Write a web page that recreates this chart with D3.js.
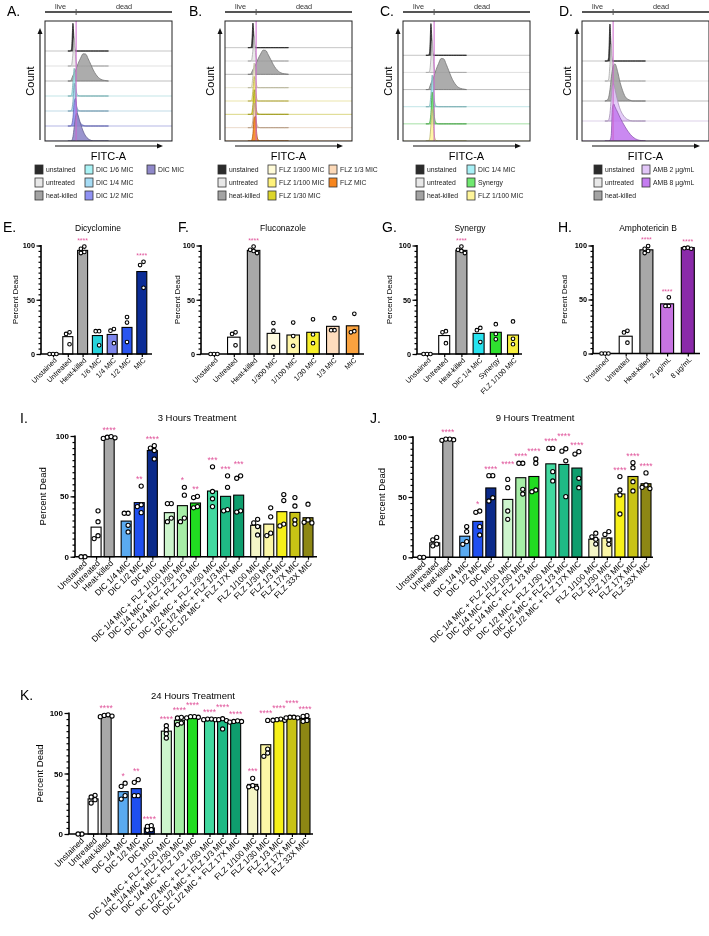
<!DOCTYPE html>
<html>
<head>
<meta charset="utf-8">
<script src="https://cdn.jsdelivr.net/npm/d3@7"></script>
<style>
  body { margin: 0; background: #fff; }
  svg { font-family: "Liberation Sans", Arial, sans-serif; will-change: transform; }
</style>
</head>
<body>
<div id="chart"></div>
<script>
// ---------------- data: flow histograms (A-D) ----------------
const fitcBins = [18, 20, 21, 22, 23, 24, 25, 26, 28, 30, 32, 34, 36, 38, 40, 42, 44, 47, 50]
const gateFitc = 24.5

const legendA = ['unstained', 'untreated', 'heat-killed', 'DIC 1/6 MIC', 'DIC 1/4 MIC', 'DIC 1/2 MIC', 'DIC MIC']
const histA = [
  [0, 0, 0.1, 1, 0.25, 0, 0, 0, 0, 0, 0, 0, 0, 0, 0, 0, 0, 0, 0],
  [0, 0, 0.05, 0.45, 1, 0.35, 0.05, 0, 0, 0, 0, 0, 0, 0, 0, 0, 0, 0, 0],
  [0, 0, 0.08, 0.2, 0.28, 0.38, 0.5, 0.62, 0.82, 0.98, 0.97, 0.8, 0.6, 0.4, 0.24, 0.13, 0.06, 0.02, 0],
  [0, 0, 0.05, 0.5, 1, 0.4, 0.1, 0.02, 0, 0, 0, 0, 0, 0, 0, 0, 0, 0, 0],
  [0, 0, 0.05, 0.35, 1, 0.55, 0.15, 0.04, 0, 0, 0, 0, 0, 0, 0, 0, 0, 0, 0],
  [0, 0, 0.05, 0.3, 0.85, 1, 0.65, 0.35, 0.1, 0.03, 0, 0, 0, 0, 0, 0, 0, 0, 0],
  [0, 0, 0.02, 0.15, 0.5, 0.85, 1, 0.92, 0.62, 0.36, 0.18, 0.08, 0.03, 0, 0, 0, 0, 0, 0]
]
const legendB = ['unstained', 'untreated', 'heat-killed', 'FLZ 1/300 MIC', 'FLZ 1/100 MIC', 'FLZ 1/30 MIC', 'FLZ 1/3 MIC', 'FLZ MIC']
const histB = [
  [0, 0, 0.1, 1, 0.25, 0, 0, 0, 0, 0, 0, 0, 0, 0, 0, 0, 0, 0, 0],
  [0, 0, 0.05, 0.45, 1, 0.35, 0.05, 0, 0, 0, 0, 0, 0, 0, 0, 0, 0, 0, 0],
  [0, 0, 0.08, 0.2, 0.28, 0.38, 0.5, 0.62, 0.82, 0.98, 0.97, 0.8, 0.6, 0.4, 0.24, 0.13, 0.06, 0.02, 0],
  [0, 0, 0.05, 0.5, 1, 0.4, 0.08, 0, 0, 0, 0, 0, 0, 0, 0, 0, 0, 0, 0],
  [0, 0, 0.04, 0.45, 1, 0.45, 0.1, 0, 0, 0, 0, 0, 0, 0, 0, 0, 0, 0, 0],
  [0, 0, 0.04, 0.4, 1, 0.5, 0.12, 0.02, 0, 0, 0, 0, 0, 0, 0, 0, 0, 0, 0],
  [0, 0, 0.03, 0.35, 1, 0.55, 0.15, 0.03, 0, 0, 0, 0, 0, 0, 0, 0, 0, 0, 0],
  [0, 0, 0.03, 0.3, 0.95, 1, 0.3, 0.05, 0, 0, 0, 0, 0, 0, 0, 0, 0, 0, 0]
]
const legendC = ['unstained', 'untreated', 'heat-killed', 'DIC 1/4 MIC', 'Synergy', 'FLZ 1/100 MIC']
const histC = [
  [0, 0, 0.1, 1, 0.25, 0, 0, 0, 0, 0, 0, 0, 0, 0, 0, 0, 0, 0, 0],
  [0, 0, 0.05, 0.45, 1, 0.35, 0.05, 0, 0, 0, 0, 0, 0, 0, 0, 0, 0, 0, 0],
  [0, 0, 0.08, 0.2, 0.28, 0.38, 0.5, 0.62, 0.82, 0.98, 0.97, 0.8, 0.6, 0.4, 0.24, 0.13, 0.06, 0.02, 0],
  [0, 0, 0.05, 0.4, 1, 0.5, 0.12, 0.02, 0, 0, 0, 0, 0, 0, 0, 0, 0, 0, 0],
  [0, 0, 0.05, 0.35, 1, 0.6, 0.15, 0.03, 0, 0, 0, 0, 0, 0, 0, 0, 0, 0, 0],
  [0, 0, 0.08, 0.5, 1, 0.45, 0.1, 0.02, 0, 0, 0, 0, 0, 0, 0, 0, 0, 0, 0]
]
const legendD = ['unstained', 'untreated', 'heat-killed', 'AMB 2 µg/mL', 'AMB 8 µg/mL']
const histD = [
  [0, 0, 0.1, 1, 0.25, 0, 0, 0, 0, 0, 0, 0, 0, 0, 0, 0, 0, 0, 0],
  [0, 0, 0.05, 0.45, 1, 0.35, 0.05, 0, 0, 0, 0, 0, 0, 0, 0, 0, 0, 0, 0],
  [0, 0.03, 0.1, 0.3, 0.6, 0.85, 0.98, 1, 0.8, 0.5, 0.28, 0.12, 0.05, 0.02, 0, 0, 0, 0, 0],
  [0, 0, 0.03, 0.2, 0.6, 0.95, 1, 0.85, 0.55, 0.32, 0.18, 0.09, 0.04, 0.01, 0, 0, 0, 0, 0],
  [0, 0, 0, 0.02, 0.15, 0.9, 1, 0.92, 0.78, 0.63, 0.5, 0.38, 0.27, 0.18, 0.11, 0.06, 0.03, 0.01, 0]
]

// ---------------- data: percent dead (E-H) ----------------
const catsE = ['Unstained', 'Untreated', 'Heat-killed', '1/6 MIC', '1/4 MIC', '1/2 MIC', 'MIC']
const meanE = [0, 16, 95.5, 17, 18, 24.5, 76]
const ptsE = [[0, 0, 0], [20, 18.5, 9], [93, 94, 97, 99], [21, 21, 8], [23, 21.5, 10], [34, 29, 11], [85, 82, 61]]
const starsE = ['', '', '****', '', '', '', '****']

const catsF = ['Unstained', 'Untreated', 'Heat-killed', '1/300 MIC', '1/100 MIC', '1/30 MIC', '1/3 MIC', 'MIC']
const meanF = [0, 15.5, 95.5, 19, 17.5, 20, 25.5, 26]
const ptsF = [[0, 0, 0], [20, 18.5, 8], [93, 95, 96, 99], [28.5, 21.5, 6.5], [29, 16.5, 7.5], [32, 18, 10], [33, 22, 22], [37, 21, 20]]
const starsF = ['', '', '****', '', '', '', '', '']

const catsG = ['Unstained', 'Untreated', 'Heat-killed', 'DIC 1/4 MIC', 'Synergy', 'FLZ 1/100 MIC']
const meanG = [0, 17, 95.5, 19, 20, 17.5]
const ptsG = [[0, 0, 0], [21, 20, 10], [93, 95, 96, 99], [24, 22, 11], [27.5, 18.5, 13.5], [30, 14, 9]]
const starsG = ['', '', '****', '', '', '']

const catsH = ['Unstained', 'Untreated', 'Heat-killed', '2 µg/mL', '8 µg/mL']
const meanH = [0, 16, 96, 46, 98]
const ptsH = [[0, 0, 0], [21, 19.5, 10], [93, 95, 97, 99.5], [52, 44, 44], [97, 97.5, 98]]
const starsH = ['', '', '****', '****', '****']

// ---------------- data: time course (I-K) ----------------
const catsT = ['Unstained', 'Untreated', 'Heat-killed', 'DIC 1/4 MIC', 'DIC 1/2 MIC', 'DIC MIC',
  'DIC 1/4 MIC + FLZ 1/100 MIC', 'DIC 1/4 MIC + FLZ 1/30 MIC', 'DIC 1/4 MIC + FLZ 1/3 MIC',
  'DIC 1/2 MIC + FLZ 1/30 MIC', 'DIC 1/2 MIC + FLZ 1/3 MIC', 'DIC 1/2 MIC + FLZ 17X MIC',
  'FLZ 1/100 MIC', 'FLZ 1/30 MIC', 'FLZ 1/3 MIC', 'FLZ 17X MIC', 'FLZ 33X MIC']
const groupT = [0, 0, 0, 1, 1, 1, 2, 2, 2, 3, 3, 3, 4, 4, 4, 4, 4]

const meanI = [0, 24.5, 99, 29.5, 44.8, 88, 36.5, 42.3, 44.5, 54.4, 50, 51, 26, 27, 37.3, 36.7, 32.3]
const ptsI = [
  [0, 0], [38, 29, 17.4, 15], [99, 98, 99.5, 98.5], [36, 36, 26, 20.5], [58.5, 43, 41.5, 36.5],
  [92, 90, 88, 81], [44, 44, 32, 29], [57.5, 51, 32, 29], [50, 49, 41.5, 40.5], [74.5, 54, 48, 41.5],
  [67, 57.5, 39, 38], [67, 65, 38, 37], [31, 28, 25, 18], [40.5, 33, 19.5, 17.5], [51.5, 46.5, 27, 25.5],
  [49, 42, 30.5, 27], [43.5, 30.5, 28.5, 28]
]
const starsI = ['', '', '****', '', '**', '****', '', '*', '**', '***', '***', '***', '', '', '', '', '']

const meanJ = [0, 12, 97.5, 17.5, 29.8, 57.5, 48, 66, 67, 77.5, 77, 74, 15, 16, 52.5, 67, 61]
const ptsJ = [
  [0, 0], [16.5, 14.5, 11, 9.5], [97, 97.5, 98, 98], [25.5, 21.3, 13, 10.8], [38.4, 37.3, 25.4, 18.5],
  [67.7, 67.7, 49.4, 46.7], [64.6, 57.7, 38.4, 31.5], [78, 78, 56.4, 52.5], [81.5, 78, 55.8, 54.4],
  [90.3, 90.3, 71, 63.3], [90, 88, 80, 50.3], [87.6, 85.6, 65.5, 57.7], [20, 17, 15, 11],
  [21.3, 19, 14.4, 10.8], [66.9, 55.8, 51.7, 35.9], [78.5, 74.3, 62.7, 55], [70, 60, 58, 57]
]
const starsJ = ['', '', '****', '', '*', '****', '****', '****', '****', '****', '****', '****', '', '', '****', '****', '****']

const meanK = [0, 29, 97.8, 35, 37.5, 5, 85, 94, 96.7, 95, 94.5, 93, 41, 73.8, 94.5, 96.5, 95.5]
const ptsK = [
  [0, 0], [32, 30.6, 28.4, 25.6], [97, 98, 98.5, 97.5], [42, 39.4, 31.7, 28.9], [44.9, 42.7, 31.7, 31.7],
  [6.9, 6.3, 3.6, 3], [89.5, 86.2, 82.9, 79.3], [96.4, 95.9, 91.7, 90.4], [96, 96.5, 97, 97],
  [95, 95, 94.5, 94.5], [95.3, 94.5, 93.7, 86.8], [93, 93, 92.5, 93.5], [46, 40, 39, 38],
  [93.9, 70.2, 66.9, 64.2], [95, 94.5, 94, 94], [96.5, 96.5, 96, 96], [97.8, 97.2, 93.9, 93.1]
]
const starsK = ['', '', '****', '*', '**', '****', '****', '****', '****', '****', '****', '****', '***', '****', '****', '****', '****']

// ---------------- colours ----------------
const colorsA = ['#2b2b2b', '#e8e8e8', '#a3a3a3', '#aaf3f6', '#a6dcf5', '#8f91f3', '#8f88c9']
const colorsB = ['#2b2b2b', '#e8e8e8', '#a3a3a3', '#fffbd8', '#fff27a', '#dcd52a', '#fcd9b8', '#f7861f']
const colorsC = ['#2b2b2b', '#e8e8e8', '#a3a3a3', '#a8f0f6', '#6fe86f', '#fff59a']
const colorsD = ['#2b2b2b', '#e8e8e8', '#a3a3a3', '#e2c6f8', '#c47cf0']
const barColE = ['#ffffff', '#ffffff', '#a8a8a8', '#27d3dc', '#7d86ec', '#2a55f0', '#0b2c96']
const barColF = ['#ffffff', '#ffffff', '#a8a8a8', '#fffbe0', '#fff6a8', '#f7ef2a', '#fddcbd', '#f9a23f']
const barColG = ['#ffffff', '#ffffff', '#a8a8a8', '#27e3ef', '#2fe02f', '#f7ef3e']
const barColH = ['#ffffff', '#ffffff', '#a8a8a8', '#c774e2', '#8a2aa9']
const barColT = ['#ffffff', '#ffffff', '#a8a8a8', '#5aaaf0', '#1f4ff0', '#0b2a8a', '#cdf5cd', '#a6eea6', '#21dc21',
  '#42d9a0', '#1fba85', '#0f9e6e', '#f4f5c6', '#fbf6a6', '#f6f019', '#c8c315', '#8d8714']
const starColor = '#e0559b'

// ---------------- svg ----------------
const svg = d3.select('#chart').append('svg').attr('width', 709).attr('height', 936)

function arrowHead(g, x, y, dir) {
  // small filled triangle pointing up ('u') or right ('r')
  const p = dir === 'u'
    ? `M${x},${y} L${x - 2.5},${y + 6} L${x + 2.5},${y + 6} Z`
    : `M${x},${y} L${x - 6},${y - 2.5} L${x - 6},${y + 2.5} Z`
  g.append('path').attr('d', p).attr('fill', '#111')
}

function flowPanel(p) {
  const g = svg.append('g')
  const top = 21, bottom = 141, boxW = 127
  const x = d3.scaleLinear().domain([0, 100]).range([p.x, p.x + boxW])
  const gx = x(gateFitc)
  const n = p.hist.length
  const sp = (bottom - top) / (n + 1)

  g.append('text').attr('x', p.labelX).attr('y', 16).attr('font-size', 14).text(p.letter)

  // live | dead bar
  g.append('line').attr('x1', p.x).attr('x2', p.x + boxW).attr('y1', 12).attr('y2', 12)
    .attr('stroke', '#555').attr('stroke-width', 1.8)
  g.append('line').attr('x1', gx).attr('x2', gx).attr('y1', 9).attr('y2', 15).attr('stroke', '#555').attr('stroke-width', 1)
  g.append('text').attr('x', (p.x + gx) / 2).attr('y', 8.5).attr('font-size', 7.3).attr('fill', '#333')
    .attr('text-anchor', 'middle').text('live')
  g.append('text').attr('x', (gx + p.x + boxW) / 2).attr('y', 8.5).attr('font-size', 7.3).attr('fill', '#333')
    .attr('text-anchor', 'middle').text('dead')

  const clipId = 'clip' + p.letter[0]
  svg.append('clipPath').attr('id', clipId).append('rect')
    .attr('x', p.x).attr('y', top).attr('width', boxW).attr('height', bottom - top)
  const inner = g.append('g').attr('clip-path', `url(#${clipId})`)

  p.hist.forEach((vals, i) => {
    const base = top + 2 * sp + i * sp
    const yv = d3.scaleLinear().domain([0, 1]).range([base, base - 1.85 * sp])
    const col = p.colors[i]
    inner.append('line').attr('x1', p.x).attr('x2', p.x + boxW).attr('y1', base).attr('y2', base)
      .attr('stroke', i === 0 ? '#999' : d3.color(col).darker(0.4)).attr('stroke-opacity', 0.7).attr('stroke-width', 0.8)
    const area = d3.area()
      .x((d, j) => x(fitcBins[j]))
      .y0(base)
      .y1(d => yv(d))
      .curve(d3.curveMonotoneX)
    inner.append('path').datum(vals).attr('d', area)
      .attr('fill', col).attr('fill-opacity', 0.9)
      .attr('stroke', d3.color(col).darker(0.9)).attr('stroke-width', 0.8)
  })

  inner.append('line').attr('x1', gx).attr('x2', gx).attr('y1', top).attr('y2', bottom)
    .attr('stroke', '#cc66cc').attr('stroke-width', 1)
  g.append('rect').attr('x', p.x).attr('y', top).attr('width', boxW).attr('height', bottom - top)
    .attr('fill', 'none').attr('stroke', '#222').attr('stroke-width', 1)

  // axis arrows
  g.append('line').attr('x1', p.x - 5).attr('x2', p.x - 5).attr('y1', bottom - 1).attr('y2', 33)
    .attr('stroke', '#111').attr('stroke-width', 1.1)
  arrowHead(g, p.x - 5, 28, 'u')
  g.append('line').attr('x1', p.x + 10).attr('x2', p.x + 113).attr('y1', 146).attr('y2', 146)
    .attr('stroke', '#111').attr('stroke-width', 1.1)
  arrowHead(g, p.x + 118, 146, 'r')
  g.append('text').attr('transform', `translate(${p.x - 11},81) rotate(-90)`)
    .attr('text-anchor', 'middle').attr('font-size', 11).text('Count')
  g.append('text').attr('x', p.x + boxW / 2).attr('y', 160).attr('text-anchor', 'middle')
    .attr('font-size', 11).text('FITC-A')

  // legend
  p.names.forEach((name, i) => {
    const cx = p.x + p.legendCols[Math.floor(i / 3)]
    const cy = 165 + (i % 3) * 13
    g.append('rect').attr('x', cx).attr('y', cy).attr('width', 8).attr('height', 9)
      .attr('fill', p.colors[i]).attr('stroke', '#333').attr('stroke-width', 0.8)
    g.append('text').attr('x', cx + 11).attr('y', cy + 7).attr('font-size', 6.8).attr('fill', '#222').text(name)
  })
}

function swarm(vals, y, r) {
  const pts = vals.map(v => ({ v, py: y(v), dx: 0 }))
  const step = r * 1.5
  const placed = []
  pts.slice().sort((a, b) => a.py - b.py).forEach(p => {
    const cands = [0, -step, step, -2 * step, 2 * step, -3 * step, 3 * step]
    for (const c of cands) {
      if (placed.every(q => Math.hypot(q.dx - c, q.py - p.py) >= step - 0.01)) { p.dx = c; break }
    }
    placed.push(p)
  })
  const ext = d3.extent(pts, d => d.dx)
  const shift = (ext[0] + ext[1]) / 2
  pts.forEach(d => { d.dx -= shift })
  return pts
}

function barPanel(p) {
  const g = svg.append('g')
  const n = p.cats.length
  const slots = p.cats.map((c, i) => i + (p.groups ? p.groups[i] * 0.3 : 0))
  const x = d3.scaleLinear().domain([0, slots[n - 1]]).range([p.first, p.last])
  const y = d3.scaleLinear().domain([0, 100]).range([p.y0, p.y100])

  g.append('text').attr('x', p.lx).attr('y', p.ly).attr('font-size', 14).text(p.letter)
  g.append('text').attr('x', p.tx).attr('y', p.ty).attr('font-size', p.big ? 9.5 : 8.5)
    .attr('text-anchor', 'middle').text(p.title)
  const fs = p.big ? 9.5 : 8
  g.append('text')
    .attr('transform', `translate(${p.axisX - p.ylOff + fs * 0.35},${(p.y0 + p.y100) / 2}) rotate(-90)`)
    .attr('text-anchor', 'middle').attr('font-size', fs).attr('fill', '#000').text('Percent Dead')

  // bars
  g.selectAll('rect.bar').data(p.means).join('rect').attr('class', 'bar')
    .attr('x', (d, i) => x(slots[i]) - p.bw / 2)
    .attr('y', d => y(d))
    .attr('width', p.bw)
    .attr('height', d => y(0) - y(d))
    .attr('fill', (d, i) => p.colors[i])
    .attr('stroke', '#000').attr('stroke-width', 1.1)

  // axes
  const yMinor = d3.axisLeft(y).tickValues(d3.range(0, 101, 5)).tickSize(2.5).tickFormat('')
  const yMajor = d3.axisLeft(y).tickValues([0, 50, 100]).tickSize(4.5).tickFormat(d3.format('d'))
  g.append('g').attr('transform', `translate(${p.axisX},0)`).call(yMinor)
  const gm = g.append('g').attr('transform', `translate(${p.axisX},0)`).call(yMajor)
  gm.selectAll('text').attr('font-size', p.big ? 8 : 7.3).attr('font-weight', 'bold')
    .attr('font-family', '"Liberation Sans", Arial, sans-serif').attr('fill', '#000').attr('x', -6)
  g.selectAll('.domain').remove()
  g.selectAll('.tick line').attr('stroke', '#000').attr('stroke-width', 1.2)
  g.append('line').attr('x1', p.axisX).attr('x2', p.axisX).attr('y1', p.y0).attr('y2', p.y100 - 0.5)
    .attr('stroke', '#000').attr('stroke-width', 1.6)

  const xAxis = d3.axisBottom(x).tickValues(slots).tickSize(3).tickFormat((d, i) => p.cats[i])
  const gx = g.append('g').attr('transform', `translate(0,${p.y0})`).call(xAxis)
  gx.select('.domain').remove()
  gx.selectAll('.tick line').attr('stroke', '#000').attr('stroke-width', 1.2)
  gx.selectAll('text')
    .attr('font-size', p.big ? 8.4 : 7.2)
    .attr('font-family', '"Liberation Sans", Arial, sans-serif')
    .attr('fill', '#000')
    .attr('x', 0).attr('y', 0).attr('dy', '0.35em')
    .attr('text-anchor', 'end')
    .attr('transform', 'translate(2,5) rotate(-45)')
  g.append('line').attr('x1', p.axisX - 0.8).attr('x2', p.right).attr('y1', p.y0).attr('y2', p.y0)
    .attr('stroke', '#000').attr('stroke-width', 1.6)

  // points and significance stars
  const r = p.big ? 2.1 : 1.8
  let prevStar = null
  p.pts.forEach((vals, i) => {
    const cx = x(slots[i])
    const sw = swarm(vals, y, r + 0.5)
    g.selectAll(null).data(sw).join('circle')
      .attr('cx', d => cx + d.dx).attr('cy', d => d.py).attr('r', r)
      .attr('fill', '#fff').attr('stroke', '#000').attr('stroke-width', 1.1)
    if (p.stars[i]) {
      let sy = y(d3.max(vals)) - r - 2
      if (prevStar && prevStar.i === i - 1 && Math.abs(prevStar.sy - sy) < 5) sy = prevStar.sy - 5
      g.append('text').attr('x', cx).attr('y', sy).attr('text-anchor', 'middle')
        .attr('font-size', p.big ? 8.5 : 7).attr('fill', starColor).text(p.stars[i])
      prevStar = { i, sy }
    } else {
      prevStar = null
    }
  })
}

// ---------------- layout ----------------
flowPanel({ letter: 'A.', labelX: 7, x: 45, hist: histA, names: legendA, colors: colorsA, legendCols: [-10, 40, 102] })
flowPanel({ letter: 'B.', labelX: 189, x: 225, hist: histB, names: legendB, colors: colorsB, legendCols: [-7, 43, 104] })
flowPanel({ letter: 'C.', labelX: 380, x: 403, hist: histC, names: legendC, colors: colorsC, legendCols: [13, 64] })
flowPanel({ letter: 'D.', labelX: 559, x: 582, hist: histD, names: legendD, colors: colorsD, legendCols: [12, 60] })

barPanel({ letter: 'E.', lx: 3, ly: 232, title: 'Dicyclomine', tx: 98, ty: 231, axisX: 41, ylOff: 26,
  first: 53, last: 141.8, right: 152, y0: 354, y100: 245.5, bw: 10,
  cats: catsE, means: meanE, pts: ptsE, stars: starsE, colors: barColE })
barPanel({ letter: 'F.', lx: 178, ly: 232, title: 'Fluconazole', tx: 283, ty: 231, axisX: 201, ylOff: 24,
  first: 214, last: 352.6, right: 364, y0: 354, y100: 245.5, bw: 12.5,
  cats: catsF, means: meanF, pts: ptsF, stars: starsF, colors: barColF })
barPanel({ letter: 'G.', lx: 382, ly: 232, title: 'Synergy', tx: 470, ty: 231, axisX: 417, ylOff: 28,
  first: 427, last: 513, right: 522, y0: 354, y100: 245.5, bw: 11,
  cats: catsG, means: meanG, pts: ptsG, stars: starsG, colors: barColG })
barPanel({ letter: 'H.', lx: 558, ly: 232, title: 'Amphotericin B', tx: 648, ty: 231, axisX: 593, ylOff: 29,
  first: 605, last: 687.8, right: 700, y0: 353.5, y100: 245.5, bw: 13,
  cats: catsH, means: meanH, pts: ptsH, stars: starsH, colors: barColH })

barPanel({ letter: 'I.', lx: 20, ly: 423, title: '3 Hours Treatment', tx: 197, ty: 421, axisX: 75, ylOff: 32, big: true,
  first: 83, last: 308, right: 317, y0: 556.7, y100: 436, bw: 10, groups: groupT,
  cats: catsT, means: meanI, pts: ptsI, stars: starsI, colors: barColT })
barPanel({ letter: 'J.', lx: 370, ly: 423, title: '9 Hours Treatment', tx: 535, ty: 421, axisX: 413, ylOff: 31, big: true,
  first: 421.7, last: 646, right: 653, y0: 557.3, y100: 436.7, bw: 10, groups: groupT,
  cats: catsT, means: meanJ, pts: ptsJ, stars: starsJ, colors: barColT })
barPanel({ letter: 'K.', lx: 20, ly: 700, title: '24 Hours Treatment', tx: 193, ty: 699, axisX: 69, ylOff: 29, big: true,
  first: 80, last: 305, right: 313, y0: 834, y100: 713, bw: 10, groups: groupT,
  cats: catsT, means: meanK, pts: ptsK, stars: starsK, colors: barColT })
</script>
</body>
</html>
